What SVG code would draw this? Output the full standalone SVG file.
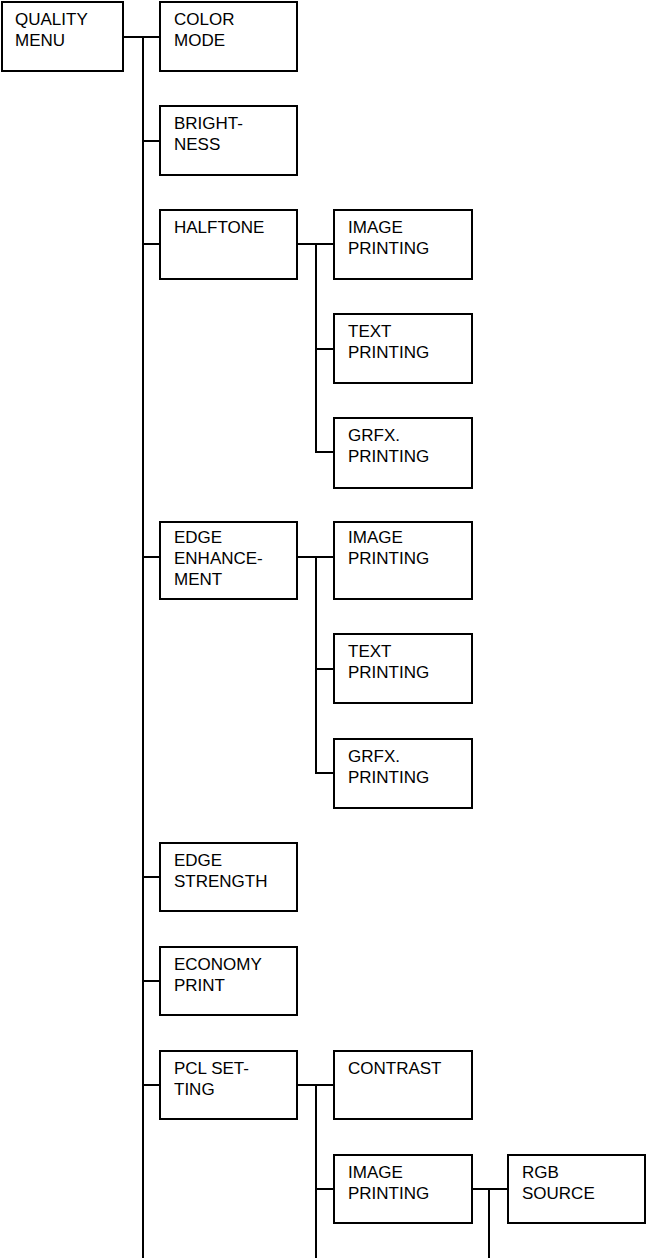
<svg xmlns="http://www.w3.org/2000/svg" width="646" height="1258" viewBox="0 0 646 1258">
<style>
rect.box{fill:#fff;stroke:#000;stroke-width:2}
#connectors path{fill:none;stroke:#000;stroke-width:2}
</style>
<rect x="0" y="0" width="646" height="1258" fill="#fff"/>
<g id="connectors">
<path d="M123 37H160M143 37V1258"/>
<path d="M143 141H160M143 244H160M143 557H160M143 877H160M143 981H160M143 1085H160"/>
<path d="M297 244H334M316 244V452H334M316 349H334"/>
<path d="M297 557H334M316 557V773H334M316 669H334"/>
<path d="M297 1085H334M316 1085V1258M316 1189H334"/>
<path d="M472 1189H508M489 1189V1258"/>
</g>
<g font-family="'Liberation Sans', Arial, sans-serif" font-size="17" fill="#000">
<g id="quality-menu"><rect class="box" x="2" y="2" width="121" height="69"/><text x="15" y="25">QUALITY</text><text x="15" y="46">MENU</text></g>
<g id="color-mode"><rect class="box" x="160" y="2" width="137" height="69"/><text x="174" y="25">COLOR</text><text x="174" y="46">MODE</text></g>
<g id="brightness"><rect class="box" x="160" y="106" width="137" height="69"/><text x="174" y="129">BRIGHT-</text><text x="174" y="150">NESS</text></g>
<g id="halftone"><rect class="box" x="160" y="210" width="137" height="69"/><text x="174" y="233">HALFTONE</text></g>
<g id="ht-image"><rect class="box" x="334" y="210" width="138" height="69"/><text x="348" y="233">IMAGE</text><text x="348" y="254">PRINTING</text></g>
<g id="ht-text"><rect class="box" x="334" y="314" width="138" height="69"/><text x="348" y="337">TEXT</text><text x="348" y="358">PRINTING</text></g>
<g id="ht-grfx"><rect class="box" x="334" y="418" width="138" height="70"/><text x="348" y="441">GRFX.</text><text x="348" y="462">PRINTING</text></g>
<g id="edge-enh"><rect class="box" x="160" y="522" width="137" height="77"/><text x="174" y="543">EDGE</text><text x="174" y="564">ENHANCE-</text><text x="174" y="585">MENT</text></g>
<g id="ee-image"><rect class="box" x="334" y="522" width="138" height="77"/><text x="348" y="543">IMAGE</text><text x="348" y="564">PRINTING</text></g>
<g id="ee-text"><rect class="box" x="334" y="634" width="138" height="69"/><text x="348" y="657">TEXT</text><text x="348" y="678">PRINTING</text></g>
<g id="ee-grfx"><rect class="box" x="334" y="739" width="138" height="69"/><text x="348" y="762">GRFX.</text><text x="348" y="783">PRINTING</text></g>
<g id="edge-strength"><rect class="box" x="160" y="843" width="137" height="68"/><text x="174" y="866">EDGE</text><text x="174" y="887">STRENGTH</text></g>
<g id="economy"><rect class="box" x="160" y="947" width="137" height="68"/><text x="174" y="970">ECONOMY</text><text x="174" y="991">PRINT</text></g>
<g id="pcl"><rect class="box" x="160" y="1051" width="137" height="68"/><text x="174" y="1074">PCL SET-</text><text x="174" y="1095">TING</text></g>
<g id="contrast"><rect class="box" x="334" y="1051" width="138" height="68"/><text x="348" y="1074">CONTRAST</text></g>
<g id="pcl-image"><rect class="box" x="334" y="1155" width="138" height="68"/><text x="348" y="1178">IMAGE</text><text x="348" y="1199">PRINTING</text></g>
<g id="rgb"><rect class="box" x="508" y="1155" width="137" height="68"/><text x="522" y="1178">RGB</text><text x="522" y="1199">SOURCE</text></g>
</g>
</svg>
